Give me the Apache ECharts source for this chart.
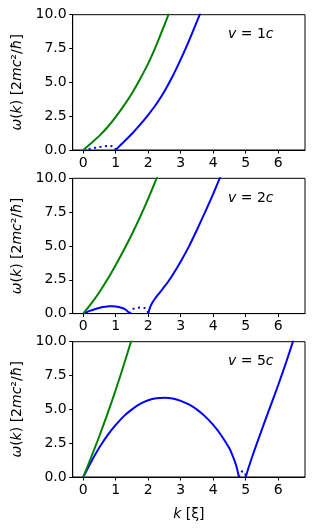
<!DOCTYPE html>
<html>
<head>
<meta charset="utf-8">
<script src="https://cdn.jsdelivr.net/npm/echarts@6/dist/echarts.min.js"></script>
<style>
  html, body { margin: 0; padding: 0; background: #fff; }
  #main { width: 315px; height: 530px; }
</style>
</head>
<body>
<div id="main"></div>
<script>
// 读图得到的数据 [k, ω]
var xTicks = [0, 1, 2, 3, 4, 5, 6];
var panelLabels = ['1', '2', '5'];

// v = 1c
var green1 = [[0,0],[0.25,0.51],[0.5,1.06],[0.75,1.7],[1,2.45],[1.25,3.28],[1.5,4.2],[1.75,5.25],[2,6.4],[2.25,7.75],[2.5,9.25],[2.62,10],[2.75,10.85]];
var blue1 = [[1,0],[1.1,0.25],[1.25,0.6],[1.5,1.2],[1.75,1.87],[2,2.6],[2.25,3.4],[2.5,4.35],[2.75,5.45],[3,6.7],[3.25,8.05],[3.5,9.5],[3.6,10.1],[3.75,11]];
var dot1 = [[0,0],[0.15,0.06],[0.3,0.13],[0.45,0.2],[0.6,0.26],[0.75,0.3],[0.85,0.3],[0.95,0.22],[1,0]];

// v = 2c
var green2 = [[0,0],[0.25,0.75],[0.5,1.6],[0.75,2.55],[1,3.6],[1.25,4.7],[1.5,5.88],[1.75,7.15],[2,8.5],[2.25,9.95],[2.4,10.9]];
var blue2a = [[0,0],[0.1,0.1],[0.2,0.2],[0.4,0.36],[0.6,0.48],[0.8,0.54],[0.9,0.55],[1,0.53],[1.15,0.45],[1.3,0.3],[1.43,0]];
var dot2 = [[1.43,0],[1.5,0.3],[1.6,0.4],[1.75,0.45],[1.9,0.4],[1.97,0.25],[2,0]];
var blue2b = [[2,0],[2.05,0.42],[2.12,0.78],[2.2,1.08],[2.3,1.4],[2.45,1.85],[2.6,2.32],[2.75,2.85],[3,3.85],[3.25,4.95],[3.5,6.2],[3.75,7.5],[4,8.85],[4.25,10.3],[4.4,11.2]];

// v = 5c
var green3 = [[0,0],[0.25,1.5],[0.5,3.05],[0.75,4.7],[1,6.45],[1.25,8.3],[1.5,10.25],[1.6,11.05]];
var blue3a = [[0,0],[0.25,1.15],[0.5,2.2],[0.75,3.1],[1,3.85],[1.25,4.5],[1.5,5.0],[1.75,5.4],[2,5.67],[2.25,5.82],[2.5,5.86],[2.75,5.8],[3,5.63],[3.25,5.36],[3.5,4.98],[3.75,4.48],[4,3.85],[4.25,3.07],[4.5,2.1],[4.6,1.55],[4.7,0.9],[4.79,0]];
var dot3 = [[4.79,0],[4.85,0.35],[4.92,0.42],[4.98,0.3],[5,0]];
var blue3b = [[5,0],[5.1,0.78],[5.2,1.5],[5.32,2.32],[5.5,3.52],[5.75,5.17],[6,6.8],[6.25,8.52],[6.5,10.35],[6.6,11.1]];

var panels = [
  { green: green1, solid: [blue1], dotted: [dot1] },
  { green: green2, solid: [blue2a, blue2b], dotted: [dot2] },
  { green: green3, solid: [blue3a, blue3b], dotted: [dot3] }
];

var tops = [14.7, 178.3, 341.7];
var fontFam = 'DejaVu Sans';

var myChart = echarts.init(document.getElementById('main'), null, { renderer: 'canvas' });

var grids = [], xAxes = [], yAxes = [], series = [], graphics = [];
panels.forEach(function (p, i) {
  grids.push({
    left: 72.7, right: 10, top: tops[i], height: 135.3,
    show: true, borderColor: '#000', borderWidth: 1
  });
  xAxes.push({
    type: 'value', gridIndex: i, min: -0.325, max: 6.825,
    name: i === 2 ? '{i|k} [ξ]' : '',
    nameLocation: 'middle', nameGap: 30,
    nameTextStyle: {
      color: '#000', fontFamily: fontFam, fontSize: 14,
      rich: { i: { fontStyle: 'italic', fontFamily: fontFam, fontSize: 14, color: '#000' } }
    },
    axisLine: { onZero: false, lineStyle: { color: '#000', width: 1 } },
    axisTick: { show: true, length: 3.5, lineStyle: { color: '#000' }, customValues: xTicks },
    axisLabel: { color: '#000', fontFamily: fontFam, fontSize: 14, margin: 6, customValues: xTicks },
    splitLine: { show: false }
  });
  yAxes.push({
    type: 'value', gridIndex: i, min: 0, max: 10, interval: 2.5,
    name: '{i|ω}({i|k}) [2{i|mc}²/{i|ħ}]',
    nameLocation: 'middle', nameRotate: 90, nameGap: 39,
    nameTextStyle: {
      color: '#000', fontFamily: fontFam, fontSize: 14,
      rich: { i: { fontStyle: 'italic', fontFamily: fontFam, fontSize: 14, color: '#000' } }
    },
    axisLine: { show: true, onZero: false, lineStyle: { color: '#000', width: 1 } },
    axisTick: { show: true, length: 3.5, lineStyle: { color: '#000' } },
    axisLabel: {
      color: '#000', fontFamily: fontFam, fontSize: 14, margin: 6,
      formatter: function (v) { return v.toFixed(1); }
    },
    splitLine: { show: false }
  });

  series.push({
    type: 'line', xAxisIndex: i, yAxisIndex: i, data: p.green,
    showSymbol: false, smooth: 0.3, clip: true,
    lineStyle: { color: '#008000', width: 2 }, z: 3
  });
  p.solid.forEach(function (d) {
    series.push({
      type: 'line', xAxisIndex: i, yAxisIndex: i, data: d,
      showSymbol: false, smooth: 0.3, clip: true,
      lineStyle: { color: '#0000ff', width: 2 }, z: 2
    });
  });
  p.dotted.forEach(function (d) {
    series.push({
      type: 'line', xAxisIndex: i, yAxisIndex: i, data: d,
      showSymbol: false, smooth: 0.3, clip: true,
      lineStyle: { color: '#0000ff', width: 2, type: [2, 3.5], cap: 'butt' }, z: 2
    });
  });

  graphics.push({
    type: 'text', left: 228, top: tops[i] + 13,
    style: {
      text: '{i|v} = ' + panelLabels[i] + '{i|c}',
      fill: '#000', font: '14px "DejaVu Sans"',
      rich: { i: { fontStyle: 'italic', fontFamily: fontFam, fontSize: 14, fill: '#000' } }
    }
  });
});

var option = {
  animation: false,
  backgroundColor: '#fff',
  grid: grids,
  xAxis: xAxes,
  yAxis: yAxes,
  series: series,
  graphic: graphics
};
myChart.setOption(option);
</script>
</body>
</html>
